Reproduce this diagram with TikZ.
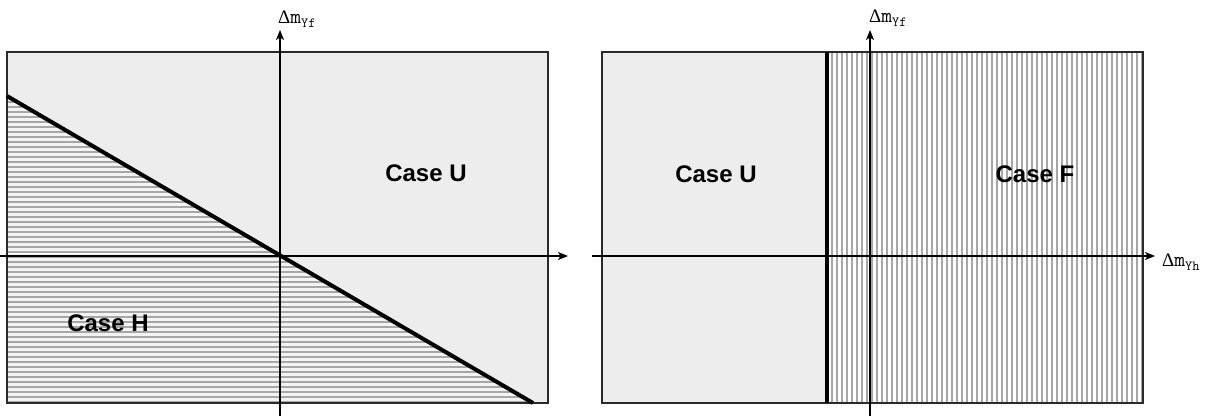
\documentclass[tikz,border=0pt]{standalone}
\usepackage{fontspec}
\usetikzlibrary{arrows.meta}
\newfontfamily\arialfont{Liberation Sans}
\newfontfamily\tnrfont{Liberation Serif}
\definecolor{regfill}{HTML}{EDEDED}
\definecolor{hatchfill}{HTML}{F3F3F3}
\definecolor{hatchline}{HTML}{A6A6A6}
\definecolor{framecol}{HTML}{2A2A2A}
\newcommand{\axlabel}[2]{{\fontsize{19}{19}\tnrfont Δ}{\fontsize{21}{21}\ttfamily m}\raisebox{-4pt}{\fontsize{14}{14}\ttfamily #1#2}}
\tikzset{
  region/.style={fill=regfill, draw=framecol, line width=1.4pt},
  axis/.style={draw=black, line width=1.1pt, -{Stealth[length=10pt,width=8pt,inset=2.5pt]}},
  boundary/.style={draw=black, line width=4pt},
  hatch/.style={draw=hatchline, line width=1.5pt},
  caselabel/.style={font=\fontsize{24}{24}\arialfont\bfseries, inner sep=0pt},
  axlab/.style={inner sep=0pt, anchor=base west}
}
\begin{document}
\begin{tikzpicture}[x=1pt,y=-1pt]
\useasboundingbox (0,0) rectangle (1221,416);
% ---------- left panel ----------
\path[region] (7,52) rectangle (548,403);
\begin{scope}
  \clip (7,96) -- (533,403) -- (7,403) -- cycle;
  \fill[hatchfill] (7,96) rectangle (548,403);
  \foreach \yy in {97,102,...,402} { \draw[hatch] (7,\yy) -- (548,\yy); }
\end{scope}
\draw[framecol, line width=1.4pt] (7,52) rectangle (548,403);
\coordinate (lA) at (7,96);
\coordinate (lB) at (533,403);
\draw[boundary] (lA) -- (lB);
\coordinate (lxS) at (0,256);
\coordinate (lxE) at (568,256);
\coordinate (lyS) at (280,416);
\coordinate (lyE) at (280,30);
\draw[axis] (lxS) -- (lxE);
\draw[axis] (lyS) -- (lyE);
\node[axlab] (lyl) at (278,23) {\axlabel{Y}{f}};
\node[caselabel] (lu) at (426,173) {Case U};
\node[caselabel] (lh) at (108,323) {Case H};
% ---------- right panel ----------
\path[region] (602,52) rectangle (1143,403);
\begin{scope}
  \clip (827,52) rectangle (1143,403);
  \fill[white] (827,52) rectangle (1143,403);
  \foreach \xx in {832,837,...,1142} { \draw[hatch] (\xx,52) -- (\xx,403); }
\end{scope}
\draw[framecol, line width=1.4pt] (602,52) rectangle (1143,403);
\coordinate (rA) at (827,52);
\coordinate (rB) at (827,403);
\draw[boundary] (rA) -- (rB);
\coordinate (rxS) at (592,256);
\coordinate (rxE) at (1155,256);
\coordinate (ryS) at (870,416);
\coordinate (ryE) at (870,30);
\draw[axis] (rxS) -- (rxE);
\draw[axis] (ryS) -- (ryE);
\node[axlab] (ryl) at (869,22) {\axlabel{Y}{f}};
\node[axlab] (rxl) at (1162,266) {\axlabel{Y}{h}};
\node[caselabel] (ru) at (716,174) {Case U};
\node[caselabel] (rf) at (1035,174) {Case F};
\end{tikzpicture}
\end{document}
